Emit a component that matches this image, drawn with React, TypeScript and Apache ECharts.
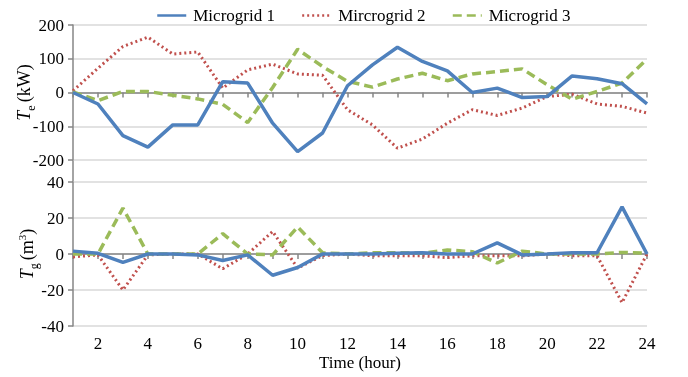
import React, { useEffect, useRef } from "react";
import * as echarts from "echarts";

const hours = ["1","2","3","4","5","6","7","8","9","10","11","12","13","14","15","16","17","18","19","20","21","22","23","24"];
const seriesNames = ["Microgrid 1", "Mircrogrid 2", "Microgrid 3"];

const te1 = [0, -34, -128, -162, -96, -96, 32, 28, -91, -175, -120, 20, 82, 134, 92, 64, 0, 13, -15, -12, 49, 41, 26, -34];
const te2 = [5, 72, 136, 164, 114, 120, 13, 67, 84, 55, 51, -51, -96, -165, -138, -91, -51, -68, -46, -12, -5, -34, -41, -61];
const te3 = [2, -24, 3, 3, -8, -19, -35, -89, 15, 128, 77, 33, 16, 40, 57, 35, 55, 62, 70, 23, -20, 3, 28, 99];

const tg1 = [1.6, 0.4, -4.7, 0, 0, -0.5, -3.6, -0.5, -11.8, -7.5, 0, 0, 0, 0.4, 0.7, 0, 0, 6.2, -0.5, 0, 0.7, 0.7, 26.2, 0];
const tg2 = [-1.6, -0.5, -20, -0.5, 0, 0, -8.2, 0, 12.5, -7.8, -0.9, 0, -1, -1, -1, -2, -1, -1, -1, 0, -1, -1, -27, 0];
const tg3 = [0, 0, 25.5, 0, 0, 0, 11.3, 0, -0.5, 15, 0.7, 0, 0.7, 0.7, 0.4, 2.2, 1.3, -5, 1.6, 0, 0, 0, 0.9, 0.4];

const teTicks = [-200, 200, 100];
const tgTicks = [-40, 40, 20];

const colors = ["#4F81BD", "#C0504D", "#9BBB59"];
const lineTypes: any[] = ["solid", [2, 3], [9, 5]];
const widths = [3.5, 3, 3.5];
const FONT = "Liberation Serif";

export default function App() {
  const ref = useRef<HTMLDivElement>(null);
  useEffect(() => {
    const chart = echarts.init(ref.current!, null, { renderer: "svg" });
    const axisLine = { show: true, lineStyle: { color: "#868686", width: 1.5 } };
    const axisTick = { show: true, length: 5, lineStyle: { color: "#868686", width: 1.5 } };
    const splitLine = { show: true, lineStyle: { color: "#d9d9d9", width: 1.5 } };
    const mkSeries = (data: number[][], xi: number) =>
      data.map((d, i) => ({
        name: seriesNames[i],
        type: "line",
        xAxisIndex: xi,
        yAxisIndex: xi,
        data: d,
        symbol: "none",
        showSymbol: false,
        lineStyle: { color: colors[i], width: widths[i], type: lineTypes[i] },
        itemStyle: { color: colors[i] },
        z: i === 0 ? 5 : 4,
      }));
    const rich = (extra: any = {}) => ({
      t: { fontFamily: FONT, fontSize: 18, fontStyle: "italic", color: "#000", lineHeight: 22, verticalAlign: "middle" },
      s: { fontFamily: FONT, fontSize: 12, color: "#000", lineHeight: 22, verticalAlign: "bottom", padding: [0, 3, -2, 0] },
      n: { fontFamily: FONT, fontSize: 18, color: "#000", lineHeight: 22, verticalAlign: "middle" },
      ...extra,
    });
    chart.setOption({
      animation: false,
      textStyle: { fontFamily: FONT },
      legend: {
        top: 2,
        left: 151,
        itemWidth: 29,
        itemHeight: 14,
        itemGap: 26,
        itemStyle: { opacity: 0 },
        lineStyle: { width: 2.5 },
        textStyle: { fontFamily: FONT, fontSize: 17, color: "#000", padding: [0, 0, 0, 2] },
        data: seriesNames,
      },
      grid: [
        { left: 73, right: 41, top: 25, height: 135 },
        { left: 73, right: 41, top: 182, height: 144 },
      ],
      xAxis: [
        {
          type: "category", gridIndex: 0, data: hours, boundaryGap: false,
          axisLine, axisTick: { ...axisTick, interval: 0 }, axisLabel: { show: false }, splitLine: { show: false },
        },
        {
          type: "category", gridIndex: 1, data: hours, boundaryGap: false,
          axisLine, axisTick: { ...axisTick, interval: 0 },
          axisLabel: {
            interval: (i: number) => i % 2 === 1,
            fontFamily: FONT, fontSize: 17, color: "#000", margin: 9,
          },
          splitLine: { show: false },
          name: "Time (hour)", nameLocation: "middle", nameGap: 28, nameMoveOverlap: false,
          nameTextStyle: { fontFamily: FONT, fontSize: 17, color: "#000" },
        },
      ],
      yAxis: [
        {
          type: "value", gridIndex: 0, min: teTicks[0], max: teTicks[1], interval: teTicks[2],
          axisLine, axisTick, splitLine,
          axisLabel: { fontFamily: FONT, fontSize: 17, color: "#000", margin: 9 },
          name: "{t|T}{s|e}{n|(kW)}", nameLocation: "middle", nameRotate: 90, nameGap: 38, nameMoveOverlap: false,
          nameTextStyle: { fontFamily: FONT, fontSize: 18, color: "#000", rich: rich() },
        },
        {
          type: "value", gridIndex: 1, min: tgTicks[0], max: tgTicks[1], interval: tgTicks[2],
          axisLine, axisTick, splitLine,
          axisLabel: { fontFamily: FONT, fontSize: 17, color: "#000", margin: 9 },
          name: "{t|T}{s|g}{n|(m}{p|3}{n|)}", nameLocation: "middle", nameRotate: 90, nameGap: 35, nameMoveOverlap: false,
          nameTextStyle: {
            fontFamily: FONT, fontSize: 18, color: "#000",
            rich: rich({ p: { fontFamily: FONT, fontSize: 11, color: "#000", lineHeight: 22, verticalAlign: "top", padding: [0, 0, 0, 0] } }),
          },
        },
      ],
      graphic: [
        { type: "line", shape: { x1: 73, y1: 160, x2: 73, y2: 182 }, style: { stroke: "#868686", lineWidth: 1.5 } },
      ],
      series: [...mkSeries([te1, te2, te3], 0), ...mkSeries([tg1, tg2, tg3], 1)],
    });
    return () => chart.dispose();
  }, []);
  return <div ref={ref} style={{ position: "fixed", left: 0, top: 0, width: 688, height: 377 }} />;
}
